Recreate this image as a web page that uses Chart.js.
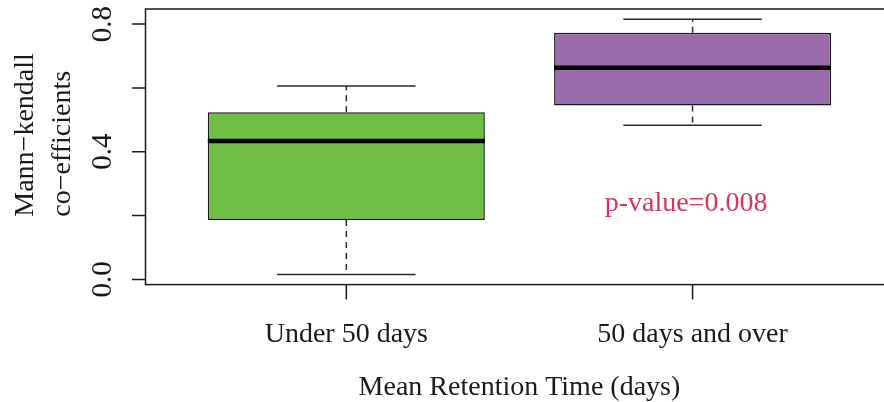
<!DOCTYPE html>
<html>
<head>
<meta charset="utf-8">
<script src="https://cdn.jsdelivr.net/npm/chart.js@4.4.0/dist/chart.umd.min.js"></script>
<style>
  html, body { margin: 0; padding: 0; overflow: hidden; background: #fff; }
  #wrap { width: 884px; height: 402px; overflow: hidden; }
  canvas { display: block; }
</style>
</head>
<body>
<div id="wrap"><canvas id="c" width="900" height="402"></canvas></div>
<script>
// Box-plot summary per retention group
const categories = ['Under 50 days', '50 days and over'];
const lowerWhisker = [0.016, 0.483];
const lowerQuartile = [0.186, 0.545];
const medians = [0.434, 0.663];
const upperQuartile = [0.524, 0.773];
const upperWhisker = [0.606, 0.815];
const boxColors = ['#6fbe45', '#9a6bab'];

// Axis ticks
const yTickValues = [0, 0.2, 0.4, 0.6, 0.8];
const yTickLabels = ['0.0', '', '0.4', '', '0.8'];

// Text
const xTitle = 'Mean Retention Time (days)';
const yTitleLines = ['Mann\u2212kendall', 'co\u2212efficients'];
const annotation = 'p-value=0.008';

const positions = categories.map((_, i) => i + 1);
const BOX_HALF = 0.4;    // half box width, in category units
const CAP_HALF = 0.2;    // half whisker-cap width
const SERIF = '"Liberation Serif", "Times New Roman", serif';
const INK = '#1a1a1a';

function text(ctx, str, x, y, font, opts = {}) {
  ctx.save();
  ctx.font = font;
  ctx.fillStyle = opts.color || INK;
  ctx.textAlign = opts.align || 'center';
  ctx.textBaseline = 'alphabetic';
  ctx.translate(x, y);
  if (opts.rotate) ctx.rotate(opts.rotate);
  ctx.fillText(str, 0, 0);
  ctx.restore();
}

const boxplotExtras = {
  id: 'boxplotExtras',
  afterDatasetsDraw(chart) {
    const { ctx, scales: { x, y } } = chart;
    ctx.save();
    positions.forEach((p, i) => {
      const cx = x.getPixelForValue(p);
      // dashed whiskers
      ctx.strokeStyle = '#2a2a2a';
      ctx.lineWidth = 1.5;
      ctx.setLineDash([6, 5]);
      ctx.beginPath();
      ctx.moveTo(cx, y.getPixelForValue(upperQuartile[i]));
      ctx.lineTo(cx, y.getPixelForValue(upperWhisker[i]));
      ctx.moveTo(cx, y.getPixelForValue(lowerQuartile[i]));
      ctx.lineTo(cx, y.getPixelForValue(lowerWhisker[i]));
      ctx.stroke();
      // caps
      ctx.setLineDash([]);
      ctx.beginPath();
      [upperWhisker[i], lowerWhisker[i]].forEach(v => {
        const py = y.getPixelForValue(v);
        ctx.moveTo(x.getPixelForValue(p - CAP_HALF), py);
        ctx.lineTo(x.getPixelForValue(p + CAP_HALF), py);
      });
      ctx.stroke();
      // median
      ctx.strokeStyle = '#000';
      ctx.lineWidth = 4.5;
      ctx.lineCap = 'butt';
      ctx.beginPath();
      const my = y.getPixelForValue(medians[i]);
      ctx.moveTo(x.getPixelForValue(p - BOX_HALF), my);
      ctx.lineTo(x.getPixelForValue(p + BOX_HALF), my);
      ctx.stroke();
    });
    ctx.restore();
  },
  afterDraw(chart) {
    const { ctx, chartArea: a, scales: { x, y } } = chart;
    ctx.save();
    ctx.strokeStyle = INK;
    ctx.lineWidth = 1.5;
    // plot frame
    ctx.strokeRect(a.left, a.top, a.right - a.left, a.bottom - a.top);
    // y ticks
    ctx.beginPath();
    yTickValues.forEach(v => {
      const py = y.getPixelForValue(v);
      ctx.moveTo(a.left - 13.5, py);
      ctx.lineTo(a.left, py);
    });
    // x ticks
    positions.forEach(p => {
      const px = x.getPixelForValue(p);
      ctx.moveTo(px, a.bottom);
      ctx.lineTo(px, a.bottom + 15);
    });
    ctx.stroke();
    ctx.restore();

    // y tick labels, rotated
    yTickValues.forEach((v, i) => {
      if (!yTickLabels[i]) return;
      text(ctx, yTickLabels[i], 111, y.getPixelForValue(v), '29px ' + SERIF, { rotate: -Math.PI / 2 });
    });
    // y title (two lines)
    text(ctx, yTitleLines[0], 33.3, 216.7, '28px ' + SERIF, { rotate: -Math.PI / 2, align: 'left' });
    text(ctx, yTitleLines[1], 70, 216.7, '28px ' + SERIF, { rotate: -Math.PI / 2, align: 'left' });
    // category labels under their ticks
    categories.forEach((c, i) => text(ctx, c, x.getPixelForValue(positions[i]), 341.7, '28px ' + SERIF));
    // x title centred on the plot
    text(ctx, xTitle, (a.left + a.right) / 2, 395, '28px ' + SERIF);
    // test annotation
    text(ctx, annotation, 686, 211, '28px ' + SERIF, { color: '#d4365c' });
  }
};

new Chart(document.getElementById('c'), {
  type: 'bar',
  data: {
    datasets: [{
      data: positions.map((p, i) => ({ x: p, y: [lowerQuartile[i], upperQuartile[i]] })),
      backgroundColor: boxColors,
      borderColor: INK,
      borderWidth: 1.5,
      borderSkipped: false,
      categoryPercentage: 2 * BOX_HALF,
      barPercentage: 1.0
    }]
  },
  options: {
    responsive: false,
    animation: false,
    devicePixelRatio: 1,
    layout: { padding: { top: 9, right: 6.6, left: 0, bottom: 0 } },
    plugins: { legend: { display: false }, tooltip: { enabled: false } },
    scales: {
      x: {
        type: 'linear', min: 0.42, max: 2.58, offset: false,
        grid: { display: false }, border: { display: false },
        ticks: { display: false },
        afterBuildTicks: s => { s.ticks = positions.map(v => ({ value: v })); },
        afterFit: s => { s.height = 117.4; }
      },
      y: {
        min: -0.016, max: 0.847,
        grid: { display: false }, border: { display: false },
        ticks: { display: false },
        afterBuildTicks: s => { s.ticks = yTickValues.map(v => ({ value: v })); },
        afterFit: s => { s.width = 145.5; }
      }
    }
  },
  plugins: [boxplotExtras]
});
</script>
</body>
</html>
